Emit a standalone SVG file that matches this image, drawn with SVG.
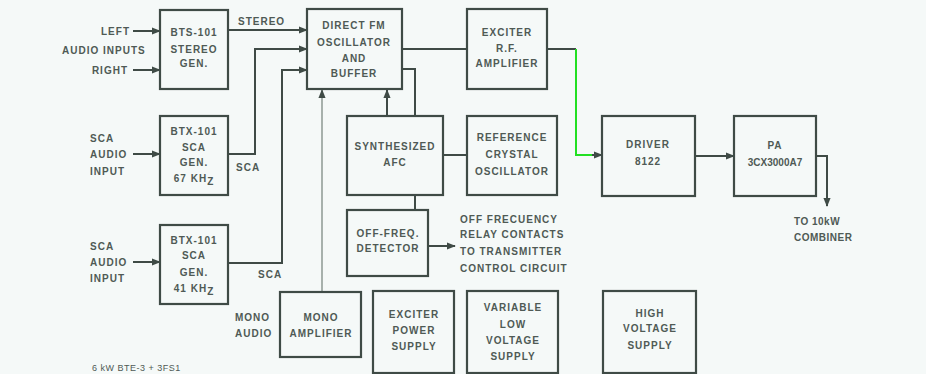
<svg xmlns="http://www.w3.org/2000/svg" width="926" height="374" viewBox="0 0 926 374">
<defs>
<marker id="ah" viewBox="0 0 10 10" refX="9" refY="5" markerWidth="9" markerHeight="9" markerUnits="userSpaceOnUse" orient="auto">
<path d="M0,1 L10,5 L0,9 Z" fill="#3f4b46"/>
</marker>
<style>
.bx{fill:none;stroke:#3f4b46;stroke-width:2.2}
.ln{fill:none;stroke:#3f4b46;stroke-width:2}
.lt{fill:none;stroke:#8c9893;stroke-width:1.5}
.gr{fill:none;stroke:#22e022;stroke-width:2}
text{font-family:"Liberation Sans",Arial,sans-serif;font-size:10px;font-weight:bold;fill:#4f5a55;letter-spacing:1px}
.c{text-anchor:middle}
.e{text-anchor:end}
</style>
</defs>
<rect width="926" height="374" fill="#f5f9f8"/>

<g id="connectors">
<line class="ln" x1="133" y1="31" x2="160" y2="31" marker-end="url(#ah)"/>
<line class="ln" x1="133" y1="70" x2="160" y2="70" marker-end="url(#ah)"/>
<line class="ln" x1="228" y1="30" x2="307" y2="30" marker-end="url(#ah)"/>
<polyline class="ln" points="228,154 255,154 255,49 307,49" marker-end="url(#ah)"/>
<polyline class="ln" points="228,263 282,263 282,70 307,70" marker-end="url(#ah)"/>
<line class="ln" x1="133" y1="154" x2="160" y2="154" marker-end="url(#ah)"/>
<line class="ln" x1="133" y1="262" x2="160" y2="262" marker-end="url(#ah)"/>
<line class="lt" x1="322" y1="292" x2="322" y2="90" marker-end="url(#ah)"/>
<line class="ln" x1="387" y1="116" x2="387" y2="90" marker-end="url(#ah)"/>
<polyline class="ln" points="402,69 415,69 415,116"/>
<line class="ln" x1="402" y1="49" x2="467" y2="49"/>
<line class="ln" x1="443" y1="155" x2="467" y2="155"/>
<line class="ln" x1="415" y1="195" x2="415" y2="210"/>
<line class="ln" x1="428" y1="246" x2="455" y2="246" marker-end="url(#ah)"/>
<line class="ln" x1="547" y1="49" x2="576" y2="49"/>
<polyline class="gr" points="576,49 576,155 594,155"/>
<line class="ln" x1="592" y1="155" x2="602" y2="155" marker-end="url(#ah)"/>
<line class="ln" x1="695" y1="156" x2="734" y2="156" marker-end="url(#ah)"/>
<polyline class="ln" points="816,156 827,156 827,206" marker-end="url(#ah)"/>
</g>

<g id="labels">
<text class="e" x="130" y="35">LEFT</text>
<text x="62" y="54">AUDIO INPUTS</text>
<text class="e" x="128" y="74">RIGHT</text>
<text x="238" y="25">STEREO</text>
<text x="90" y="142">SCA</text>
<text x="90" y="158">AUDIO</text>
<text x="90" y="175">INPUT</text>
<text x="236" y="171">SCA</text>
<text x="90" y="250">SCA</text>
<text x="90" y="266">AUDIO</text>
<text x="90" y="282">INPUT</text>
<text x="258" y="278">SCA</text>
<text x="235" y="321">MONO</text>
<text x="235" y="337">AUDIO</text>
<text x="460" y="223">OFF FRECUENCY</text>
<text x="460" y="238">RELAY CONTACTS</text>
<text x="460" y="255">TO TRANSMITTER</text>
<text x="460" y="272">CONTROL CIRCUIT</text>
<text x="794" y="225" style="letter-spacing:0.5px">TO 10kW</text>
<text x="794" y="241" style="letter-spacing:0.5px">COMBINER</text>
<text x="92" y="371" style="font-size:9px;font-weight:normal;letter-spacing:0.5px">6 kW BTE-3 + 3FS1</text>
</g>

<g id="bts101">
<rect class="bx" x="160" y="10" width="68" height="79"/>
<text class="c" x="194" y="36">BTS-101</text>
<text class="c" x="194" y="53">STEREO</text>
<text class="c" x="194" y="67">GEN.</text>
</g>

<g id="btx101a">
<rect class="bx" x="160" y="116" width="68" height="79"/>
<text class="c" x="194" y="135">BTX-101</text>
<text class="c" x="194" y="151">SCA</text>
<text class="c" x="194" y="166">GEN.</text>
<text class="c" x="194" y="182">67 KH<tspan dy="3">Z</tspan></text>
</g>

<g id="btx101b">
<rect class="bx" x="160" y="225" width="68" height="79"/>
<text class="c" x="194" y="244">BTX-101</text>
<text class="c" x="194" y="259">SCA</text>
<text class="c" x="194" y="276">GEN.</text>
<text class="c" x="194" y="292">41 KH<tspan dy="3">Z</tspan></text>
</g>

<g id="dfm">
<rect class="bx" x="307" y="9" width="95" height="80"/>
<text class="c" x="354" y="29">DIRECT FM</text>
<text class="c" x="354" y="46">OSCILLATOR</text>
<text class="c" x="354" y="62">AND</text>
<text class="c" x="354" y="77">BUFFER</text>
</g>

<g id="exciter">
<rect class="bx" x="467" y="9" width="80" height="80"/>
<text class="c" x="507" y="36">EXCITER</text>
<text class="c" x="507" y="52">R.F.</text>
<text class="c" x="507" y="67">AMPLIFIER</text>
</g>

<g id="afc">
<rect class="bx" x="347" y="116" width="96" height="79"/>
<text class="c" x="395" y="150">SYNTHESIZED</text>
<text class="c" x="395" y="166">AFC</text>
</g>

<g id="crystal">
<rect class="bx" x="467" y="116" width="90" height="79"/>
<text class="c" x="512" y="141">REFERENCE</text>
<text class="c" x="512" y="158">CRYSTAL</text>
<text class="c" x="512" y="175">OSCILLATOR</text>
</g>

<g id="detector">
<rect class="bx" x="347" y="210" width="81" height="66"/>
<text class="c" x="388" y="237">OFF-FREQ.</text>
<text class="c" x="388" y="252">DETECTOR</text>
</g>

<g id="driver">
<rect class="bx" x="602" y="116" width="93" height="80"/>
<text class="c" x="648" y="148">DRIVER</text>
<text class="c" x="648" y="165">8122</text>
</g>

<g id="pa">
<rect class="bx" x="734" y="116" width="82" height="80"/>
<text class="c" x="775" y="149">PA</text>
<text class="c" x="775" y="166" style="letter-spacing:0px">3CX3000A7</text>
</g>

<g id="monoamp">
<rect class="bx" x="280" y="292" width="81" height="65"/>
<text class="c" x="321" y="321">MONO</text>
<text class="c" x="321" y="337">AMPLIFIER</text>
</g>

<g id="exciterpower">
<rect class="bx" x="373" y="291" width="81" height="82"/>
<text class="c" x="414" y="318">EXCITER</text>
<text class="c" x="414" y="334">POWER</text>
<text class="c" x="414" y="350">SUPPLY</text>
</g>

<g id="lowvoltage">
<rect class="bx" x="467" y="291" width="91" height="82"/>
<text class="c" x="513" y="311">VARIABLE</text>
<text class="c" x="513" y="328">LOW</text>
<text class="c" x="513" y="344">VOLTAGE</text>
<text class="c" x="513" y="360">SUPPLY</text>
</g>

<g id="highvoltage">
<rect class="bx" x="603" y="291" width="93" height="82"/>
<text class="c" x="650" y="317">HIGH</text>
<text class="c" x="650" y="332">VOLTAGE</text>
<text class="c" x="650" y="349">SUPPLY</text>
</g>
</svg>
